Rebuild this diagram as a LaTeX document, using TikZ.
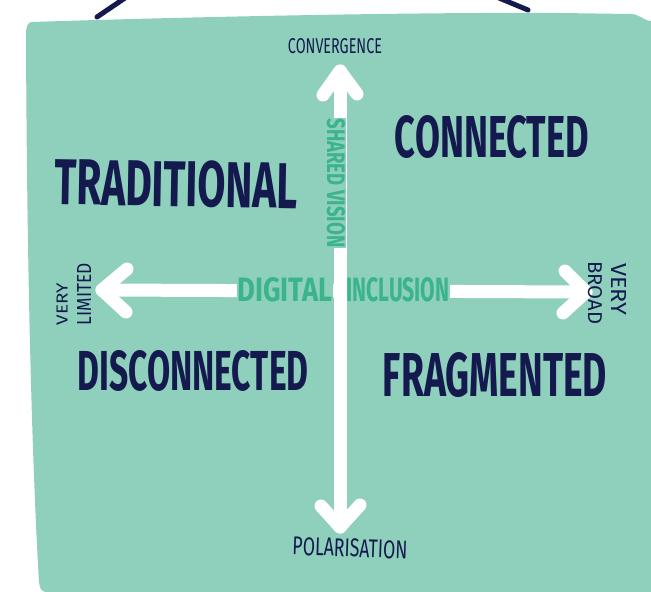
\documentclass[tikz,border=0pt]{standalone}
\usepackage{fontspec}
\usepackage{graphicx}
\newfontfamily\hand{Fira Sans}
\definecolor{panel}{HTML}{8FD0BD}
\definecolor{navy}{HTML}{141A4E}
\definecolor{lbl}{HTML}{3BB48C}
\newcommand\hw[3]{\resizebox{#1pt}{#2pt}{\hand\bfseries #3}}
\newcommand\hs[3]{\resizebox{#1pt}{#2pt}{\hand #3}}
\tikzset{
  txt/.style={inner sep=0pt, outer sep=0pt, text=navy},
  gtxt/.style={inner sep=0.5pt, outer sep=0pt, text=lbl, fill=panel},
  arr/.style={draw=white, line width=13pt, line cap=round, line join=round},
  hang/.style={draw=navy, line width=5pt, line cap=round}
}
\begin{document}
\begin{tikzpicture}[x=1pt,y=-1pt]
\useasboundingbox (0,0) rectangle (651,592);
% hanging strings
\coordinate (hl1) at (97,17); \coordinate (hl2) at (125,-2);
\coordinate (hr1) at (499,-2); \coordinate (hr2) at (528,10);
\draw[hang] (hl1) -- (hl2);
\draw[hang] (hr1) -- (hr2);
% panel
\fill[panel] (32,22) .. controls (150,18) and (400,12) .. (560,13)
  -- (630,14) .. controls (640,14) and (642,20) .. (651,21)
  -- (651,592) -- (48,592) .. controls (40,592) and (40,588) .. (39,582)
  .. controls (33,480) and (27,300) .. (26,34)
  .. controls (26,26) and (28,22) .. (32,22) -- cycle;
% arrow coordinates
\coordinate (vt) at (340,71); \coordinate (vb) at (340,527);
\coordinate (hlft) at (102,290); \coordinate (hrt) at (586,292);
% horizontal arrow
\draw[arr] (hlft) -- (hrt);
\draw[arr] (127,269) -- (hlft) -- (126,312);
\draw[arr] (565,271) -- (hrt) -- (563,313);
% labels on horizontal shaft
\node[gtxt] (dig) at (285,290) {\hw{95}{24}{DIGITAL}};
\node[gtxt] (inc) at (398,290) {\hw{103}{24}{INCLUSION}};
% vertical arrow
\draw[arr] (vt) -- (vb);
\draw[arr] (323,95) -- (vt) -- (357,94);
\draw[arr] (321,506) -- (vb) -- (360,505);
\node[gtxt, rotate=-90] (shv) at (336,183) {\hw{129}{18}{SHARED VISION}};
% axis ends
\node[txt] (conv) at (335,46) {\hs{94}{15}{CONVERGENCE}};
\node[txt, rotate=-2] (pol) at (350,548) {\hs{115}{18}{POLARISATION}};
\node[txt, rotate=90] (very1) at (62,304) {\hs{42}{11}{VERY}};
\node[txt, rotate=90] (lim) at (84,294) {\hs{62}{14}{LIMITED}};
\node[txt, rotate=-90] (very2) at (619,289) {\hs{52}{15}{VERY}};
\node[txt, rotate=-90] (broad) at (595,293) {\hs{63}{14}{BROAD}};
% quadrants
\node[txt, rotate=-1] (trad) at (176,184) {\hw{243}{46}{TRADITIONAL}};
\node[txt] (conn) at (492,137) {\hw{194}{42}{CONNECTED}};
\node[txt] (disc) at (193,371) {\hw{231}{40}{DISCONNECTED}};
\node[txt] (frag) at (495,375) {\hw{224}{44}{FRAGMENTED}};
\end{tikzpicture}
\end{document}
